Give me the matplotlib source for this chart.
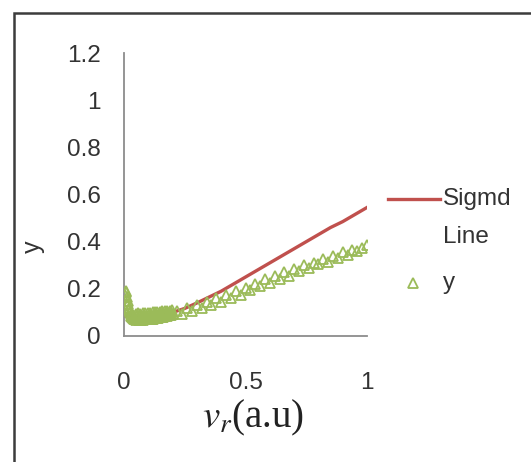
import matplotlib
matplotlib.use("Agg")
import matplotlib.pyplot as plt
from matplotlib.lines import Line2D
from matplotlib.patches import Rectangle

# fitted sigmoid line
fit_x = [0.0, 0.05, 0.1, 0.15, 0.2, 0.25, 0.3, 0.35, 0.4, 0.45, 0.5,
         0.55, 0.6, 0.65, 0.7, 0.75, 0.8, 0.85, 0.9, 0.95, 1.0]
fit_y = [0.085, 0.084, 0.085, 0.09, 0.1, 0.117, 0.14, 0.165, 0.19, 0.22, 0.25,
         0.28, 0.31, 0.34, 0.37, 0.40, 0.43, 0.46, 0.485, 0.515, 0.545]

# measured y: very dense near 0 ...
obs_x_low = [0.0, 0.0025, 0.005, 0.0075, 0.01, 0.0125, 0.015, 0.0175, 0.02, 0.0225,
             0.025, 0.0275, 0.03, 0.0325, 0.035, 0.0375, 0.04, 0.0425, 0.045, 0.0475,
             0.05, 0.0525, 0.055, 0.0575, 0.06, 0.0625, 0.065, 0.0675, 0.07, 0.0725,
             0.075, 0.0775, 0.08, 0.0825, 0.085, 0.0875, 0.09, 0.0925, 0.095, 0.0975,
             0.1, 0.1025, 0.105, 0.1075, 0.11, 0.1125, 0.115, 0.1175, 0.12, 0.1225,
             0.125, 0.1275, 0.13, 0.1325, 0.135, 0.1375, 0.14, 0.1425, 0.145, 0.1475,
             0.15, 0.1525, 0.155, 0.1575, 0.16, 0.1625, 0.165, 0.1675, 0.17, 0.1725,
             0.175, 0.1775, 0.18, 0.1825, 0.185, 0.1875, 0.19, 0.1925, 0.195, 0.1975, 0.2]
obs_y_low = [0.12, 0.15, 0.175, 0.19, 0.185, 0.165, 0.15, 0.135, 0.12, 0.11,
             0.1, 0.092, 0.086, 0.08, 0.076, 0.09, 0.072, 0.086, 0.07, 0.095,
             0.068, 0.084, 0.07, 0.096, 0.067, 0.083, 0.069, 0.095, 0.068, 0.085,
             0.07, 0.096, 0.069, 0.084, 0.071, 0.097, 0.07, 0.086, 0.072, 0.098,
             0.071, 0.087, 0.073, 0.099, 0.072, 0.088, 0.074, 0.1, 0.074, 0.09,
             0.076, 0.101, 0.076, 0.091, 0.078, 0.102, 0.078, 0.093, 0.08, 0.103,
             0.08, 0.094, 0.082, 0.104, 0.082, 0.096, 0.084, 0.106, 0.084, 0.097,
             0.086, 0.107, 0.087, 0.099, 0.088, 0.108, 0.089, 0.1, 0.09, 0.11, 0.092]
# ... then every 0.02
obs_x_high = [0.22, 0.24, 0.26, 0.28, 0.3, 0.32, 0.34, 0.36, 0.38,
              0.4, 0.42, 0.44, 0.46, 0.48, 0.5, 0.52, 0.54, 0.56, 0.58,
              0.6, 0.62, 0.64, 0.66, 0.68, 0.7, 0.72, 0.74, 0.76, 0.78,
              0.8, 0.82, 0.84, 0.86, 0.88, 0.9, 0.92, 0.94, 0.96, 0.98, 1.0]
obs_y_high = [0.105, 0.094, 0.117, 0.108, 0.13, 0.118, 0.145, 0.132, 0.16,
              0.145, 0.175, 0.16, 0.19, 0.175, 0.205, 0.195, 0.22, 0.21, 0.24,
              0.225, 0.255, 0.24, 0.27, 0.255, 0.285, 0.275, 0.3, 0.29, 0.31,
              0.305, 0.325, 0.315, 0.34, 0.33, 0.355, 0.345, 0.365, 0.36, 0.375, 0.385]

x_ticks = [0, 0.5, 1]
x_ticklabels = ["0", "0.5", "1"]
y_ticks = [0, 0.2, 0.4, 0.6, 0.8, 1.0, 1.2]
y_ticklabels = ["0", "0.2", "0.4", "0.6", "0.8", "1", "1.2"]

TEXT = "#333333"
RED = "#c0504d"
GREEN = "#9bbb59"
FS = 17.5

plt.rcParams["font.family"] = ["Liberation Sans", "DejaVu Sans"]
plt.rcParams["mathtext.fontset"] = "stix"

W, H = 531, 462
fig = plt.figure(figsize=(W / 100, H / 100), dpi=100)

# outer frame (cut off at right and bottom like the screenshot)
fig.add_artist(Rectangle((14 / W, -0.05), 1.2, (H - 13) / H + 0.05,
                         transform=fig.transFigure, fill=False,
                         edgecolor="#3c3c3c", linewidth=1.8))

ax = fig.add_axes([124 / W, 126 / H, 243 / W, 283 / H])
ax.plot(fit_x, fit_y, color=RED, linewidth=2.4, zorder=2)
mk = dict(linestyle="none", marker="^", markersize=6.5, markerfacecolor="none",
          markeredgecolor=GREEN, markeredgewidth=1.3, zorder=3)
ax.plot(obs_x_low, obs_y_low, **mk)
ax.plot(obs_x_high, obs_y_high, **mk)

ax.set_xlim(0, 1)
ax.set_ylim(0, 1.2)
ax.set_xticks(x_ticks)
ax.set_xticklabels(x_ticklabels)
ax.set_yticks(y_ticks)
ax.set_yticklabels(y_ticklabels)
ax.tick_params(axis="both", length=0, labelsize=FS, colors=TEXT)
ax.tick_params(axis="y", pad=17)
ax.tick_params(axis="x", pad=26)
for s in ["top", "right"]:
    ax.spines[s].set_visible(False)
for s in ["left", "bottom"]:
    ax.spines[s].set_color("#8c8c8c")
    ax.spines[s].set_linewidth(1.3)

ax.set_xlabel(r"$v_r$(a.u)", fontsize=28, family="Liberation Serif", color="#222222", va="center")
ax.xaxis.set_label_coords(0.53, -0.289)
ax.set_ylabel("y", fontsize=18, color=TEXT, va="center")
ax.yaxis.set_label_coords(-0.374, 0.314)

# legend, drawn Excel style to the right of the plot
fig.add_artist(Line2D([388 / W, 440 / W], [(H - 199) / H] * 2, transform=fig.transFigure,
                      color=RED, linewidth=2.4))
fig.text(443 / W, (H - 199) / H, "Sigmd", fontsize=FS, color=TEXT, va="center")
fig.text(443 / W, (H - 237) / H, "Line", fontsize=FS, color=TEXT, va="center")
fig.add_artist(Line2D([413 / W], [(H - 283) / H], transform=fig.transFigure, marker="^",
                      markersize=6.5, markerfacecolor="none", markeredgecolor=GREEN,
                      markeredgewidth=1.3))
fig.text(443 / W, (H - 283) / H, "y", fontsize=FS, color=TEXT, va="center")

fig.savefig("out.png", dpi=100)
